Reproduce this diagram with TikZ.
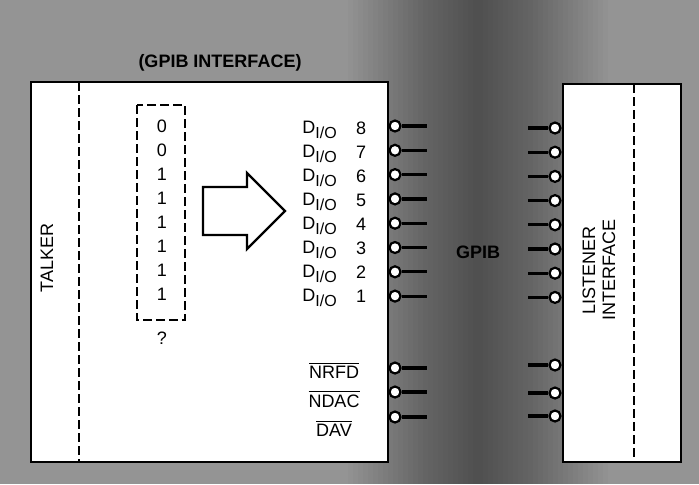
\documentclass[tikz,border=0pt]{standalone}
\usepackage{fontspec}
\setmainfont{Liberation Sans}
\usetikzlibrary{positioning, calc}
\tikzset{
  unitbox/.style = {draw, line width=1.4pt, fill=white, inner sep=0pt},
  splitline/.style = {line width=1pt, dash pattern=on 4.5pt off 2pt},
  pin/.style = {circle, draw, line width=1.1pt, fill=white, minimum size=5.5pt, inner sep=0pt},
  stub/.style = {line width=1.6pt},
  lbl/.style = {font=\fontsize{9}{10}\selectfont, inner sep=0pt},
  hdr/.style = {font=\fontsize{9}{10}\selectfont\bfseries, inner sep=0pt},
}
\newcommand{\dio}{D\raisebox{-0.45ex}{\fontsize{8}{9}\selectfont I/O}}
\begin{document}
\begin{tikzpicture}[x=0.5pt, y=-0.5pt]
  \useasboundingbox (0,0) rectangle (699,484);
  % textured backdrop, darker towards the bus
  \fill[black!42] (0,0) rectangle (699,484);
  \foreach \w in {5,10,...,130}
    \fill[black, fill opacity=0.018] (478-\w,0) rectangle (478+\w,484);

  % the two units
  \node[unitbox, minimum width=178.5pt, minimum height=190pt] (talker) at (209.5,272) {};
  \node[unitbox, minimum width=59pt, minimum height=189pt] (listener) at (622,273) {};
  \draw[splitline] (79,82) -- (79,462);
  \draw[splitline] (634,84) -- (634,462);

  \node[hdr] (ifc) at (220,63) {(GPIB INTERFACE)};
  \node[lbl, rotate=90] (tlk) at (47,258) {TALKER};
  \node[lbl, rotate=90, align=center] (lsn) at (599,270) {LISTENER\\INTERFACE};
  \node[hdr] (bus) at (478,252) {GPIB};

  % byte held by the talker
  \draw[splitline] (137,105) rectangle (185,320);
  \foreach \bit [count=\i from 0] in {0,0,1,1,1,1,1,1}
    \node[lbl] (bit\i) at (162,126+24*\i) {\bit};
  \node[lbl] (qm) at (162,338) {?};

  % hollow arrow
  \draw[line width=1.2pt, fill=white, line join=miter]
    (203,187) -- (247,187) -- (247,173) -- (285,211) -- (247,249) -- (247,235) -- (203,235) -- cycle;

  % data lines
  \foreach \n [count=\i from 0] in {8,7,6,5,4,3,2,1} {
    \node[lbl, anchor=west] (d\n) at (302,130+24*\i) {\dio};
    \node[lbl] (dn\n) at (361,128+24*\i) {\n};
    \node[pin] (tp\n) at (395,126+24.3*\i) {};
    \coordinate (te\n) at (427,126+24.3*\i);
    \draw[stub] (tp\n) -- (te\n);
    \node[pin] (lp\n) at (555,128+24.2*\i) {};
    \coordinate (le\n) at (528,128+24.2*\i);
    \draw[stub] (le\n) -- (lp\n);
  }

  % handshake lines
  \node[lbl] (nrfd) at (334,370) {$\overline{\mbox{NRFD}}$};
  \node[lbl] (ndac) at (334,399) {$\overline{\mbox{NDAC}}$};
  \node[lbl] (dav) at (334,428) {$\overline{\mbox{DAV}}$};
  \foreach \h/\ty/\ly in {a/368/365, b/392/393, c/417/416} {
    \node[pin] (tp\h) at (395,\ty) {};
    \coordinate (te\h) at (427,\ty);
    \draw[stub] (tp\h) -- (te\h);
    \node[pin] (lp\h) at (555,\ly) {};
    \coordinate (le\h) at (528,\ly);
    \draw[stub] (le\h) -- (lp\h);
  }
\end{tikzpicture}
\end{document}
